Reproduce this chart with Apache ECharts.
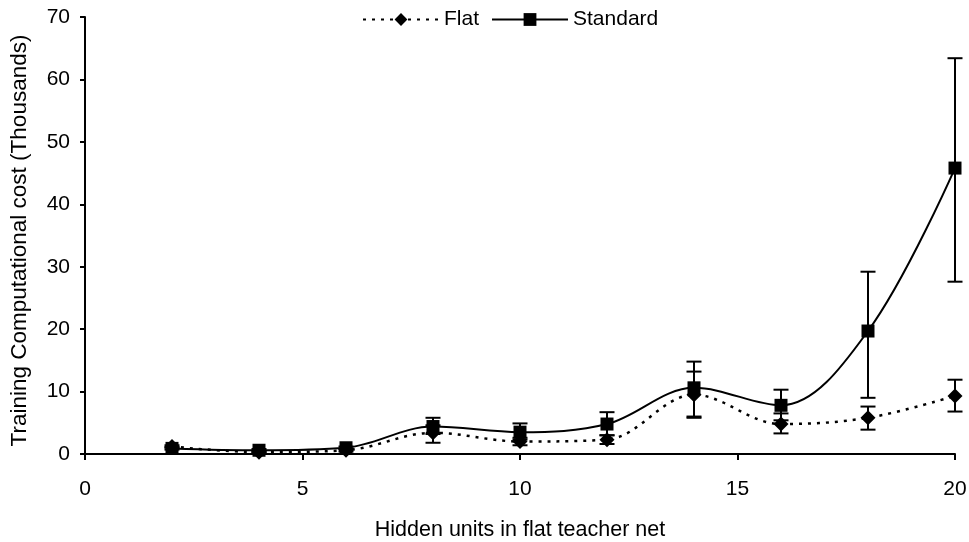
<!DOCTYPE html>
<html>
<head>
<meta charset="utf-8">
<script src="https://cdn.jsdelivr.net/npm/echarts@6/dist/echarts.min.js"></script>
<style>html,body{margin:0;padding:0;background:#fff;}#c{width:969px;height:542px;}</style>
</head>
<body>
<div id="c"></div>
<script>
const hiddenUnits = [2, 4, 6, 8, 10, 12, 14, 16, 18, 20];
const flatCost = [1.2, 0.3, 0.6, 3.4, 2.0, 2.3, 9.5, 4.8, 5.8, 9.3];
const flatLow  = [1.0, 0.2, 0.4, 1.8, 1.4, 1.6, 5.8, 3.3, 3.9, 6.8];
const flatHigh = [1.4, 0.4, 0.8, 4.6, 2.6, 3.0, 13.2, 6.5, 7.6, 11.9];
const stdCost  = [0.9, 0.6, 1.0, 4.4, 3.5, 4.8, 10.6, 7.8, 19.7, 45.8];
const stdLow   = [0.7, 0.4, 0.8, 3.2, 2.3, 3.0, 6.0, 5.4, 9.0, 27.6];
const stdHigh  = [1.1, 0.8, 1.2, 5.8, 4.9, 6.7, 14.8, 10.3, 29.2, 63.4];
const yTicks = [0, 10, 20, 30, 40, 50, 60, 70];
const xTicks = [0, 5, 10, 15, 20];

const font = 'Liberation Sans, Arial, sans-serif';
const fs = 21;
const chart = echarts.init(document.getElementById('c'));

function errData(low, high) {
  return hiddenUnits.map((x, i) => [x, low[i], high[i]]);
}
function errRender(params, api) {
  const x = api.value(0);
  const lo = api.coord([x, api.value(1)]);
  const hi = api.coord([x, api.value(2)]);
  const w = 7.5;
  const st = {stroke: '#000', lineWidth: 2};
  return {
    type: 'group',
    children: [
      {type: 'line', shape: {x1: lo[0], y1: lo[1], x2: hi[0], y2: hi[1]}, style: st},
      {type: 'line', shape: {x1: lo[0] - w, y1: lo[1], x2: lo[0] + w, y2: lo[1]}, style: st},
      {type: 'line', shape: {x1: hi[0] - w, y1: hi[1], x2: hi[0] + w, y2: hi[1]}, style: st}
    ]
  };
}

chart.setOption({
  backgroundColor: '#fff',
  animation: false,
  grid: {left: 85, right: 14, top: 17, bottom: 88, containLabel: false, outerBoundsMode: 'none'},
  legend: {
    top: 4,
    left: 357,
    itemWidth: 76,
    itemHeight: 16,
    itemGap: 12,
    textStyle: {fontFamily: font, fontSize: fs, color: '#000'},
    data: ['Flat', 'Standard']
  },
  xAxis: {
    type: 'value', min: 0, max: 20, interval: 5,
    name: 'Hidden units in flat teacher net',
    nameLocation: 'middle', nameGap: 65,
    nameTextStyle: {fontFamily: font, fontSize: 21.5, color: '#000'},
    axisLine: {lineStyle: {color: '#000', width: 2}},
    axisTick: {show: true, length: 6, lineStyle: {color: '#000', width: 2}},
    axisLabel: {fontFamily: font, fontSize: fs, color: '#000', margin: 25,
      formatter: v => xTicks.includes(v) ? String(v) : ''},
    splitLine: {show: false}
  },
  yAxis: {
    type: 'value', min: 0, max: 70, interval: 10,
    name: 'Training Computational cost (Thousands)',
    nameLocation: 'middle', nameGap: 54, nameRotate: 90,
    nameTextStyle: {fontFamily: font, fontSize: 22.5, color: '#000', padding: [0, 10, 0, 0]},
    axisLine: {show: true, lineStyle: {color: '#000', width: 2}},
    axisTick: {show: true, length: 5, lineStyle: {color: '#000', width: 2}},
    axisLabel: {fontFamily: font, fontSize: fs, color: '#000', margin: 15,
      formatter: v => yTicks.includes(v) ? String(v) : ''},
    splitLine: {show: false}
  },
  series: [
    {
      name: 'Flat', type: 'line', smooth: 0.35,
      data: hiddenUnits.map((x, i) => [x, flatCost[i]]),
      symbol: 'diamond', symbolSize: 15,
      itemStyle: {color: '#000'},
      lineStyle: {color: '#000', width: 2.5, type: [3, 6]},
      z: 3
    },
    {
      name: 'Standard', type: 'line', smooth: 0.35,
      data: hiddenUnits.map((x, i) => [x, stdCost[i]]),
      symbol: 'rect', symbolSize: 13,
      itemStyle: {color: '#000'},
      lineStyle: {color: '#000', width: 2, type: 'solid'},
      z: 3
    },
    {type: 'custom', name: 'flatErr', renderItem: errRender, data: errData(flatLow, flatHigh), z: 4, silent: true},
    {type: 'custom', name: 'stdErr', renderItem: errRender, data: errData(stdLow, stdHigh), z: 4, silent: true}
  ]
});
</script>
</body>
</html>
